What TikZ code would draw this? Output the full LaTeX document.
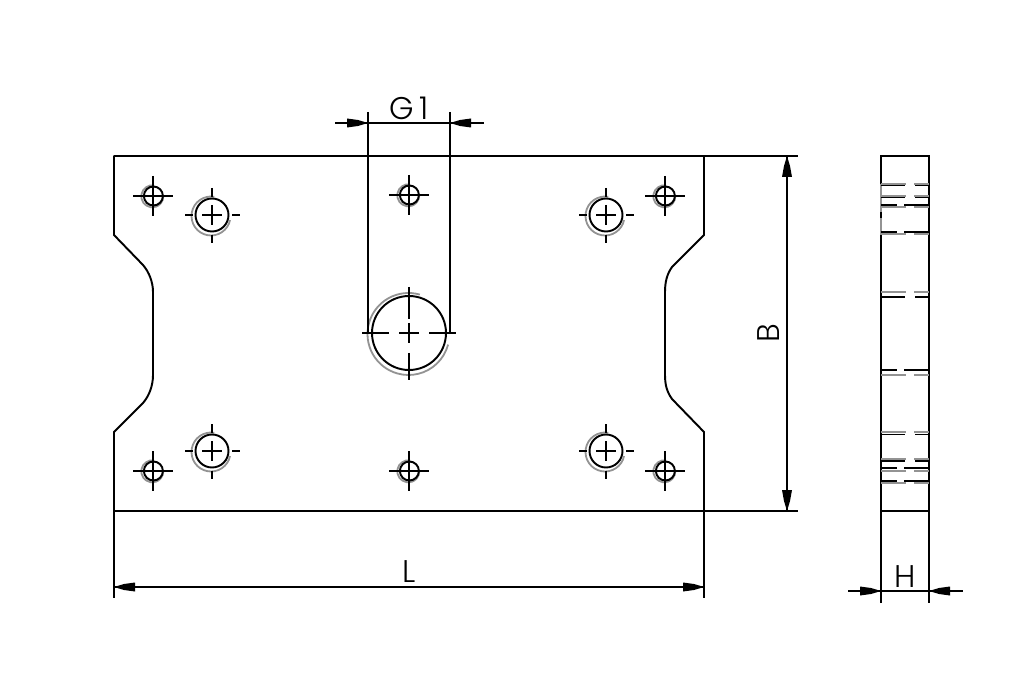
\documentclass[tikz,border=0pt]{standalone}
\usepackage{fontspec}
\setmainfont[UprightFont={* Light}]{Poppins}
\tikzset{
  x=0.75pt,y=-0.75pt,
  blk/.style={black,line width=1.45pt},
  thn/.style={black,line width=1.2pt},
  gry/.style={gray!85,line width=1.35pt},
  lbl/.style={font=\fontsize{23.5}{24}\selectfont,inner sep=0pt,text=black},
  tip/.style={fill=black,draw=none}
}
\newcommand{\smallhole}[2]{%
  \begin{scope}[shift={(#1,#2)}]
    \draw[gry,shift={(-0.7,0.3)}] (-80:11) arc[start angle=-80,end angle=-360,radius=11];
    \draw[blk] (0.4,0) circle[radius=9.5];
    \draw[blk] (-20,0) -- (20,0) (0,-20) -- (0,20);
  \end{scope}}
\newcommand{\midhole}[2]{%
  \begin{scope}[shift={(#1,#2)}]
    \draw[gry,shift={(-1,1)}] (-80:19.5) arc[start angle=-80,end angle=-348,radius=19.5];
    \draw[blk] (0,0) circle[radius=16.5];
    \draw[blk] (-10,0) -- (10,0) (0,-10) -- (0,10);
    \draw[blk] (-27,0) -- (-19,0) (20,0) -- (28,0) (0,-27) -- (0,-18) (0,20) -- (0,28);
  \end{scope}}
\newcommand{\rgt}[2]{\fill[tip,shift={(#1,#2)}] (0,0) -- (-10,-3) -- (-21,-4.5) -- (-21,4.5) -- (-10,3) -- cycle;}
\newcommand{\lft}[2]{\fill[tip,shift={(#1,#2)}] (0,0) -- (10,-3) -- (21,-4.5) -- (21,4.5) -- (10,3) -- cycle;}
\newcommand{\upw}[2]{\fill[tip,shift={(#1,#2)}] (0,0) -- (-3,10) -- (-5,21) -- (5,21) -- (3,10) -- cycle;}
\newcommand{\dwn}[2]{\fill[tip,shift={(#1,#2)}] (0,0) -- (-3,-10) -- (-5,-21) -- (5,-21) -- (3,-10) -- cycle;}
\begin{document}
\begin{tikzpicture}
\useasboundingbox[fill=white] (0,0) rectangle (1010,673);
% plate outline
\coordinate (pTL) at (114,156);
\coordinate (pTR) at (704,156);
\coordinate (pBR) at (704,511);
\coordinate (pBL) at (114,511);
\draw[blk,line join=round] (pTL) -- (pTR) -- (704,235) -- (672,267)
  .. controls (667,274) and (665,282) .. (665,292) -- (665,375)
  .. controls (665,385) and (667,392) .. (672,399) -- (704,432) -- (pBR) -- (pBL)
  -- (114,432) -- (143,403) .. controls (149,396) and (153,386) .. (153,375)
  -- (153,292) .. controls (153,282) and (149,272) .. (143,265) -- (114,235) -- cycle;
% holes
\smallhole{153}{196}
\smallhole{409}{195}
\smallhole{665}{196}
\smallhole{153}{471}
\smallhole{409}{471}
\smallhole{665}{471}
\midhole{212}{215}
\midhole{606}{215}
\midhole{212}{451}
\midhole{606}{451}
% large hole
\draw[gry] (408.5,334) ++(-74:41) arc[start angle=-74,end angle=-345,radius=41];
\draw[blk] (409,333) circle[radius=37];
\draw[blk] (362,333) -- (389,333) (399,333) -- (419,333) (429,333) -- (456,333);
\draw[blk] (409,287) -- (409,319) (409,323) -- (409,343) (409,353) -- (409,380);
% G1 dimension
\draw[blk] (368,112) -- (368,333) (450,112) -- (450,333);
\draw[blk] (335,123) -- (484,123);
\rgt{368}{123}
\lft{450}{123}
\node[lbl] (g1) at (409,108) {G\,1};
% L dimension
\draw[blk] (pBL) -- (114,598) (pBR) -- (704,598);
\draw[blk] (114,587) -- (704,587);
\lft{114}{587}
\rgt{704}{587}
\node[lbl] (l) at (409,572) {L};
% B dimension
\draw[blk] (pTR) -- (798,156) (pBR) -- (798,511);
\draw[blk] (787,156) -- (787,511);
\upw{787}{156}
\dwn{787}{511}
\node[lbl,rotate=90] (b) at (769,333) {B};
% side view
\draw[blk] (881,603) -- (881,156) -- (929,156) -- (929,603);
\draw[blk] (881,511) -- (929,511);
\draw[gry] (881,184) -- (881,212) (881,218) -- (881,235);
\foreach \yb/\yg in {185.7/184,197.7/196,297/292,434.3/432,461/459.3}{
  \draw[thn] (881,\yb) -- (905,\yb) (915,\yb) -- (929,\yb);
  \draw[gry] (881,\yg) -- (906,\yg) (914,\yg) -- (929,\yg);
}
\foreach \yb/\yg in {205/206.7,232/234,370/375,468/471,481/482.7}{
  \draw[thn] (881,\yb) -- (897,\yb) (904,\yb) -- (929,\yb);
  \draw[gry] (881,\yg) -- (906,\yg) (914,\yg) -- (929,\yg);
}
% H dimension
\draw[blk] (848,591) -- (963,591);
\rgt{881}{591}
\lft{929}{591}
\node[lbl] (h) at (905,577) {H};
\end{tikzpicture}
\end{document}
